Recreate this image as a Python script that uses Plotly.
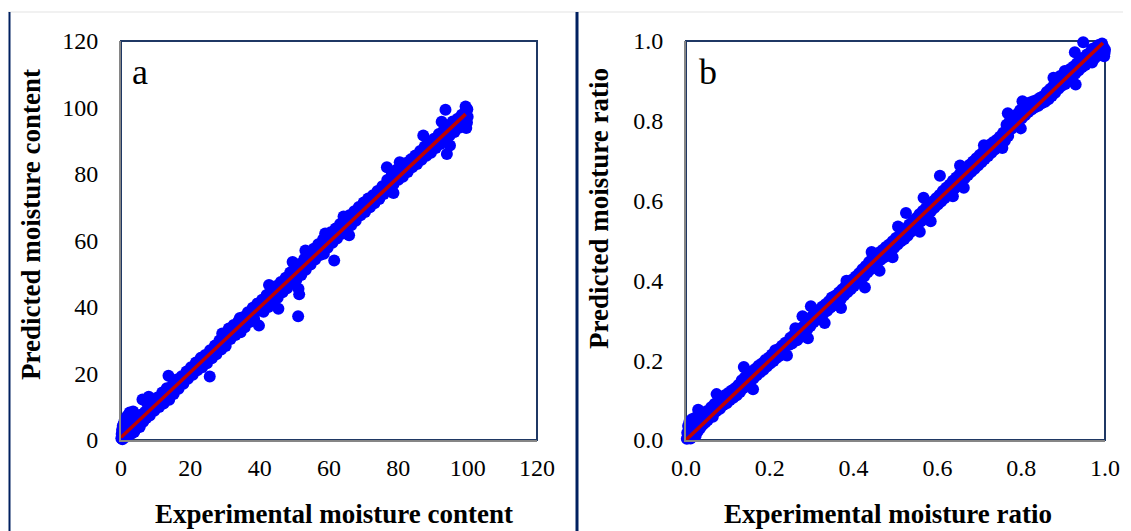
import plotly.graph_objects as go

# ---------------- Panel a data: moisture content ----------------
exp_mc = [0.1, 0.2, 0.3, 0.4, 0.5, 0.6, 0.8, 0.9, 1.0, 1.1, 1.3, 1.4, 1.6, 1.8, 1.9, 2.1, 2.3, 2.5, 2.6, 2.8,
          3.0, 3.1, 3.3, 3.5, 3.6, 3.8, 4.0, 4.2, 4.5, 4.7,
          5.0, 5.4, 5.8, 6.2, 6.4, 6.9, 7.3, 7.6, 8.0, 8.3, 8.8, 9.2, 9.6, 10.1, 10.5, 11.0, 11.4, 11.9, 12.3, 12.8,
          13.2, 13.7, 13.9, 14.3, 14.8, 15.2, 15.7, 16.1, 16.6, 17.0, 17.5, 18.0, 18.4, 18.9, 19.3, 19.8, 20.2, 20.7,
          21.1, 21.6, 22.0, 22.5, 23.0, 23.4, 23.9, 24.3, 24.8, 25.2, 25.6, 25.7, 26.2, 26.6, 27.1, 27.5, 28.0, 28.4,
          28.9, 29.2, 29.3, 29.8, 30.2, 30.7, 31.1, 31.6, 32.0, 32.5, 33.0, 33.4, 33.9, 34.3, 34.5, 34.8, 35.3, 35.7,
          36.2, 36.6, 37.1, 37.5, 38.0, 38.4, 38.9, 39.3, 39.8, 40.2, 40.7, 41.1, 41.6, 42.0, 42.7, 42.5, 43.0, 43.4,
          43.9, 44.3, 44.8, 45.4, 45.2, 45.7, 46.1, 46.6, 47.0, 47.5, 47.9, 48.4, 48.8, 49.3, 49.5, 49.7, 50.2, 50.6,
          51.1, 51.4, 51.2, 51.1, 51.5, 52.0, 52.4, 52.9, 53.2, 53.3, 53.8, 54.2, 54.7, 55.1, 55.6, 56.0, 56.5, 56.9,
          57.4, 57.8, 58.3, 58.5, 58.9, 58.7, 59.2, 59.6, 60.1, 60.5, 61.0, 61.5, 61.4, 61.9, 62.3, 62.8, 63.2, 63.7,
          64.2, 64.1, 64.6, 65.0, 65.8, 65.5, 65.9, 66.4, 66.8, 67.3, 67.7, 68.2, 68.6, 69.1, 69.5, 70.0, 70.4, 70.9,
          71.3, 71.8, 72.2, 72.7, 73.1, 73.6, 74.0, 74.5, 74.9, 75.4, 75.8, 76.3, 76.7, 76.8, 77.2, 77.7, 78.1, 78.6,
          78.6, 79.0, 79.5, 80.0, 80.4, 80.4, 80.9, 81.3, 81.8, 82.2, 82.7, 83.1, 83.6, 84.0, 84.5, 84.9, 85.4, 85.8,
          86.3, 86.7, 87.2, 87.2, 87.6, 88.1, 88.5, 89.0, 89.4, 89.9, 90.3, 90.8, 91.2, 91.7, 92.5, 92.1, 92.6, 93.0,
          93.6, 93.5, 94.0, 94.9, 93.9, 94.4, 94.8, 95.3, 95.7, 96.2, 96.6, 97.1, 97.5, 97.9, 98.3, 98.7, 99.1, 99.4,
          99.5, 99.8, 100.0, 99.6, 99.9]
pred_mc = [0.5, 1.8, 3.0, 0.2, 4.2, 2.2, 5.0, 1.0, 3.4, 6.0, 0.9, 4.6, 2.1, 7.2, 3.3, 1.4, 5.5, 8.3, 2.6, 4.1,
           1.9, 6.8, 3.0, 8.6, 4.8, 2.4, 6.1, 3.2, 7.4, 4.5,
           5.6, 3.9, 7.6, 12.2, 5.5, 8.4, 6.6, 11.0, 13.0, 7.4, 9.9, 11.6, 8.8, 10.6, 12.8, 9.9, 12.0, 14.3, 11.0, 13.5,
           15.6, 19.3, 12.1, 14.7, 16.4, 13.8, 16.1, 18.2, 15.4, 17.3, 19.2, 16.9, 18.7, 20.6, 18.4, 20.0, 21.9, 19.6,
           21.4, 23.3, 21.0, 22.9, 24.7, 21.9, 23.8, 25.6, 23.1, 25.1, 19.1, 27.0, 24.6, 26.5, 28.4, 25.8, 27.6, 29.9,
           27.2, 32.0, 29.0, 30.6, 28.3, 31.6, 33.5, 30.4, 32.4, 34.6, 31.6, 33.6, 35.8, 36.7, 32.4, 34.8, 37.0, 33.9,
           36.0, 38.4, 35.5, 37.2, 39.8, 36.4, 38.6, 41.0, 34.4, 39.5, 42.2, 38.6, 40.9, 43.6, 46.6, 40.0, 42.5, 44.9,
           41.4, 43.9, 46.3, 39.5, 42.8, 45.2, 47.5, 44.4, 46.5, 48.8, 45.6, 47.9, 50.4, 47.0, 53.5, 49.4, 51.5, 48.2,
           37.2, 43.8, 45.5, 50.6, 52.9, 49.6, 52.2, 54.5, 57.0, 51.2, 53.6, 56.0, 52.8, 55.1, 57.5, 54.3, 56.6, 58.9,
           55.6, 57.9, 60.4, 56.0, 62.1, 58.4, 61.0, 57.8, 60.2, 62.5, 59.3, 54.0, 61.4, 63.6, 60.6, 62.8, 65.0, 62.0,
           67.2, 64.2, 66.4, 63.2, 61.6, 65.3, 67.6, 64.6, 66.6, 68.8, 65.9, 67.8, 70.1, 67.6, 69.1, 71.4, 68.6, 70.3,
           72.6, 70.0, 71.5, 73.6, 71.2, 72.8, 74.9, 72.5, 74.2, 76.3, 74.0, 75.6, 82.0, 78.2, 75.4, 77.6, 79.8, 74.3,
           76.9, 79.2, 81.3, 78.3, 83.5, 80.4, 82.5, 79.2, 81.2, 83.3, 80.6, 82.3, 84.4, 82.0, 83.4, 85.6, 83.0, 84.5,
           86.9, 84.3, 91.6, 86.0, 88.3, 85.5, 87.1, 89.5, 86.4, 88.2, 90.6, 87.8, 89.6, 92.0, 95.7, 89.0, 90.9, 93.0,
           99.3, 90.3, 86.0, 88.6, 92.4, 94.6, 91.6, 93.5, 95.8, 92.6, 94.3, 96.6, 93.9, 95.6, 97.8, 94.6, 96.7, 100.3,
           98.4, 95.5, 97.2, 93.8, 99.5]
fit_mc_x = [0.0, 99.4]
fit_mc_y = [0.8, 98.0]

# ---------------- Panel b data: moisture ratio ----------------
exp_mr = [0.002, 0.003, 0.005, 0.006, 0.008, 0.009, 0.011, 0.012, 0.014, 0.015, 0.017, 0.019, 0.021, 0.023, 0.025,
          0.029, 0.028, 0.031, 0.034, 0.037, 0.040, 0.043, 0.046, 0.049, 0.052,
          0.056, 0.060, 0.064, 0.068, 0.073, 0.072, 0.077, 0.081, 0.085, 0.089, 0.093, 0.097, 0.101, 0.105, 0.109,
          0.113, 0.117, 0.121, 0.125, 0.129, 0.133, 0.138, 0.137, 0.141, 0.145, 0.149, 0.153, 0.160, 0.157, 0.161,
          0.165, 0.169, 0.173, 0.177, 0.181, 0.185, 0.189, 0.193, 0.197, 0.201, 0.205, 0.209, 0.213, 0.217, 0.221,
          0.225, 0.229, 0.233, 0.241, 0.237, 0.245, 0.249, 0.253, 0.261, 0.257, 0.265, 0.269, 0.273, 0.278, 0.277,
          0.281, 0.285, 0.291, 0.289, 0.298, 0.293, 0.297, 0.301, 0.305, 0.309, 0.313, 0.317, 0.321, 0.331, 0.325,
          0.329, 0.333, 0.337, 0.341, 0.348, 0.345, 0.349, 0.353, 0.357, 0.361, 0.370, 0.365, 0.369, 0.373, 0.377,
          0.383, 0.381, 0.385, 0.389, 0.393, 0.397, 0.401, 0.405, 0.409, 0.413, 0.417, 0.427, 0.421, 0.425, 0.429,
          0.433, 0.437, 0.443, 0.441, 0.445, 0.449, 0.453, 0.457, 0.462, 0.461, 0.465, 0.469, 0.473, 0.477, 0.481,
          0.485, 0.493, 0.489, 0.493, 0.497, 0.501, 0.506, 0.505, 0.509, 0.513, 0.517, 0.521, 0.525, 0.525, 0.529,
          0.533, 0.537, 0.541, 0.545, 0.549, 0.553, 0.558, 0.557, 0.561, 0.567, 0.565, 0.569, 0.573, 0.577, 0.584,
          0.581, 0.585, 0.589, 0.593, 0.597, 0.601, 0.606, 0.605, 0.609, 0.613, 0.617, 0.621, 0.625, 0.629, 0.637,
          0.633, 0.637, 0.641, 0.645, 0.654, 0.649, 0.653, 0.657, 0.663, 0.661, 0.665, 0.669, 0.673, 0.677, 0.681,
          0.685, 0.689, 0.693, 0.697, 0.701, 0.705, 0.711, 0.709, 0.713, 0.717, 0.721, 0.725, 0.729, 0.733, 0.737,
          0.741, 0.745, 0.755, 0.749, 0.753, 0.757, 0.761, 0.768, 0.765, 0.769, 0.773, 0.777, 0.781, 0.785, 0.789,
          0.793, 0.799, 0.797, 0.801, 0.803, 0.805, 0.809, 0.813, 0.817, 0.821, 0.825, 0.829, 0.833, 0.837, 0.841,
          0.845, 0.849, 0.853, 0.857, 0.861, 0.865, 0.869, 0.873, 0.877, 0.877, 0.881, 0.885, 0.889, 0.893, 0.897,
          0.904, 0.901, 0.905, 0.909, 0.913, 0.917, 0.921, 0.930, 0.925, 0.928, 0.929, 0.933, 0.937, 0.941, 0.948,
          0.945, 0.949, 0.953, 0.957, 0.961, 0.969, 0.965, 0.969, 0.973, 0.977, 0.981, 0.985, 0.987, 0.990, 0.993,
          0.996, 0.998, 1.000, 1.002, 0.999]
pred_mr = [0.003, 0.018, 0.035, 0.008, 0.045, 0.022, 0.004, 0.032, 0.052, 0.014, 0.040, 0.024, 0.055, 0.010, 0.036,
           0.076, 0.022, 0.048, 0.030, 0.058, 0.038, 0.066, 0.044, 0.072, 0.050,
           0.062, 0.082, 0.058, 0.090, 0.115, 0.072, 0.096, 0.078, 0.104, 0.088, 0.112, 0.092, 0.118, 0.100, 0.124,
           0.106, 0.130, 0.112, 0.138, 0.120, 0.150, 0.183, 0.130, 0.158, 0.136, 0.166, 0.146, 0.127, 0.172, 0.154,
           0.178, 0.162, 0.186, 0.170, 0.192, 0.176, 0.200, 0.184, 0.206, 0.192, 0.214, 0.198, 0.225, 0.206, 0.228,
           0.212, 0.236, 0.220, 0.212, 0.244, 0.238, 0.256, 0.242, 0.280, 0.262, 0.250, 0.272, 0.258, 0.310, 0.282,
           0.264, 0.290, 0.255, 0.276, 0.335, 0.300, 0.286, 0.310, 0.296, 0.318, 0.302, 0.326, 0.310, 0.293, 0.334,
           0.318, 0.340, 0.324, 0.348, 0.357, 0.332, 0.352, 0.338, 0.362, 0.344, 0.331, 0.370, 0.352, 0.378, 0.362,
           0.399, 0.386, 0.370, 0.392, 0.378, 0.402, 0.386, 0.410, 0.394, 0.418, 0.402, 0.382, 0.428, 0.410, 0.436,
           0.420, 0.446, 0.471, 0.428, 0.456, 0.436, 0.466, 0.444, 0.424, 0.470, 0.452, 0.476, 0.458, 0.484, 0.466,
           0.490, 0.458, 0.474, 0.498, 0.482, 0.506, 0.535, 0.490, 0.512, 0.498, 0.520, 0.504, 0.569, 0.530, 0.512,
           0.540, 0.522, 0.548, 0.530, 0.556, 0.540, 0.522, 0.566, 0.548, 0.607, 0.574, 0.556, 0.582, 0.564, 0.548,
           0.590, 0.574, 0.598, 0.582, 0.606, 0.590, 0.662, 0.614, 0.598, 0.624, 0.606, 0.632, 0.614, 0.640, 0.611,
           0.622, 0.650, 0.630, 0.658, 0.688, 0.638, 0.666, 0.646, 0.632, 0.674, 0.656, 0.682, 0.664, 0.690, 0.672,
           0.698, 0.680, 0.706, 0.688, 0.714, 0.696, 0.739, 0.722, 0.704, 0.732, 0.712, 0.740, 0.720, 0.746, 0.728,
           0.752, 0.734, 0.732, 0.760, 0.742, 0.770, 0.750, 0.819, 0.790, 0.762, 0.800, 0.780, 0.808, 0.786, 0.816,
           0.796, 0.781, 0.826, 0.806, 0.849, 0.834, 0.814, 0.842, 0.822, 0.846, 0.828, 0.849, 0.834, 0.852, 0.838,
           0.858, 0.844, 0.862, 0.848, 0.872, 0.854, 0.880, 0.862, 0.908, 0.888, 0.870, 0.900, 0.880, 0.912, 0.888,
           0.925, 0.904, 0.892, 0.918, 0.900, 0.930, 0.908, 0.891, 0.936, 0.972, 0.918, 0.944, 0.926, 0.952, 0.997,
           0.934, 0.958, 0.940, 0.966, 0.946, 0.946, 0.972, 0.980, 0.954, 0.984, 0.962, 0.990, 0.968, 0.976, 0.994,
           0.985, 0.962, 0.978, 0.990, 0.970]
fit_mr_x = [0.0, 0.995]
fit_mr_y = [0.0, 0.995]

x_ticks_a = [0, 20, 40, 60, 80, 100, 120]
y_ticks_a = [0, 20, 40, 60, 80, 100, 120]
ticks_b = [0.0, 0.2, 0.4, 0.6, 0.8, 1.0]
tick_text_b = ["0.0", "0.2", "0.4", "0.6", "0.8", "1.0"]

# The page body has an 8px margin, so the figure is sized to the visible
# window area and page positions are converted with that offset.
OFF = 8
W, H = 1131 - OFF, 531 - OFF
BLUE = "#0000FF"
RED = "#C00000"
NAVY = "#1F3864"
GRAY = "#868686"
SERIF = "Liberation Serif, Times New Roman, serif"

def px(x):
    return (x - OFF) / W

def py(y):
    return 1 - (y - OFF) / H

fig = go.Figure()

fig.add_trace(go.Scatter(x=exp_mc, y=pred_mc, mode="markers", xaxis="x", yaxis="y",
                         marker=dict(color=BLUE, size=12, line=dict(width=0)),
                         cliponaxis=False, showlegend=False))
fig.add_trace(go.Scatter(x=fit_mc_x, y=fit_mc_y, mode="lines", xaxis="x", yaxis="y",
                         line=dict(color=RED, width=3.5), cliponaxis=False, showlegend=False))
fig.add_trace(go.Scatter(x=exp_mr, y=pred_mr, mode="markers", xaxis="x2", yaxis="y2",
                         marker=dict(color=BLUE, size=12, line=dict(width=0)),
                         cliponaxis=False, showlegend=False))
fig.add_trace(go.Scatter(x=fit_mr_x, y=fit_mr_y, mode="lines", xaxis="x2", yaxis="y2",
                         line=dict(color=RED, width=3.5), cliponaxis=False, showlegend=False))

ydom = [py(440), py(41)]
tickfont = dict(family=SERIF, size=24, color="#000000")
common = dict(showgrid=False, zeroline=False, showline=True, linecolor=GRAY, linewidth=2,
              ticks="", tickfont=tickfont, fixedrange=True)

fig.update_layout(
    width=W, height=H,
    margin=dict(l=0, r=0, t=0, b=0, autoexpand=False),
    paper_bgcolor="white", plot_bgcolor="white",
    xaxis=dict(domain=[px(121), px(537)], range=[0, 120], tickvals=x_ticks_a,
               anchor="y", ticklabelstandoff=5, **common),
    yaxis=dict(domain=ydom, range=[0, 120], tickvals=y_ticks_a,
               anchor="x", ticklabelstandoff=16, **common),
    xaxis2=dict(domain=[px(686), px(1105)], range=[0, 1.0], tickvals=ticks_b, ticktext=tick_text_b,
                anchor="y2", ticklabelstandoff=5, **common),
    yaxis2=dict(domain=ydom, range=[0, 1.0], tickvals=ticks_b, ticktext=tick_text_b,
                anchor="x2", ticklabelstandoff=16, **common),
)

shapes = [
    dict(type="rect", xref="paper", yref="paper", x0=px(121), x1=px(537), y0=py(440), y1=py(41),
         line=dict(color=NAVY, width=2), layer="below"),
    dict(type="rect", xref="paper", yref="paper", x0=px(686), x1=px(1105), y0=py(440), y1=py(41),
         line=dict(color=NAVY, width=2), layer="below"),
    dict(type="line", xref="paper", yref="paper", x0=0, x1=1, y0=py(12), y1=py(12),
         line=dict(color="#E3E3E3", width=1)),
    dict(type="line", xref="paper", yref="paper", x0=px(9.5), x1=px(9.5), y0=py(12), y1=0,
         line=dict(color="#002060", width=2)),
    dict(type="line", xref="paper", yref="paper", x0=px(577), x1=px(577), y0=py(12), y1=0,
         line=dict(color="#002060", width=3)),
]
fig.update_layout(shapes=shapes)

titlefont = dict(family=SERIF, size=27, color="#000000")
annotations = [
    dict(text="<b>Experimental moisture content</b>", x=px(334), y=py(514), xref="paper", yref="paper",
         showarrow=False, font=titlefont, xanchor="center", yanchor="middle"),
    dict(text="<b>Experimental moisture ratio</b>", x=px(888), y=py(514), xref="paper", yref="paper",
         showarrow=False, font=titlefont, xanchor="center", yanchor="middle"),
    dict(text="<b>Predicted moisture content</b>", x=px(31), y=py(225), xref="paper", yref="paper",
         showarrow=False, font=titlefont, textangle=-90, xanchor="center", yanchor="middle"),
    dict(text="<b>Predicted moisture ratio</b>", x=px(599), y=py(209), xref="paper", yref="paper",
         showarrow=False, font=titlefont, textangle=-90, xanchor="center", yanchor="middle"),
    dict(text="a", x=px(140), y=py(72), xref="paper", yref="paper", showarrow=False,
         font=dict(family=SERIF, size=36, color="#000000"), xanchor="center", yanchor="middle"),
    dict(text="b", x=px(708), y=py(72), xref="paper", yref="paper", showarrow=False,
         font=dict(family=SERIF, size=36, color="#000000"), xanchor="center", yanchor="middle"),
]
fig.update_layout(annotations=annotations)

fig.write_html("out.html")
